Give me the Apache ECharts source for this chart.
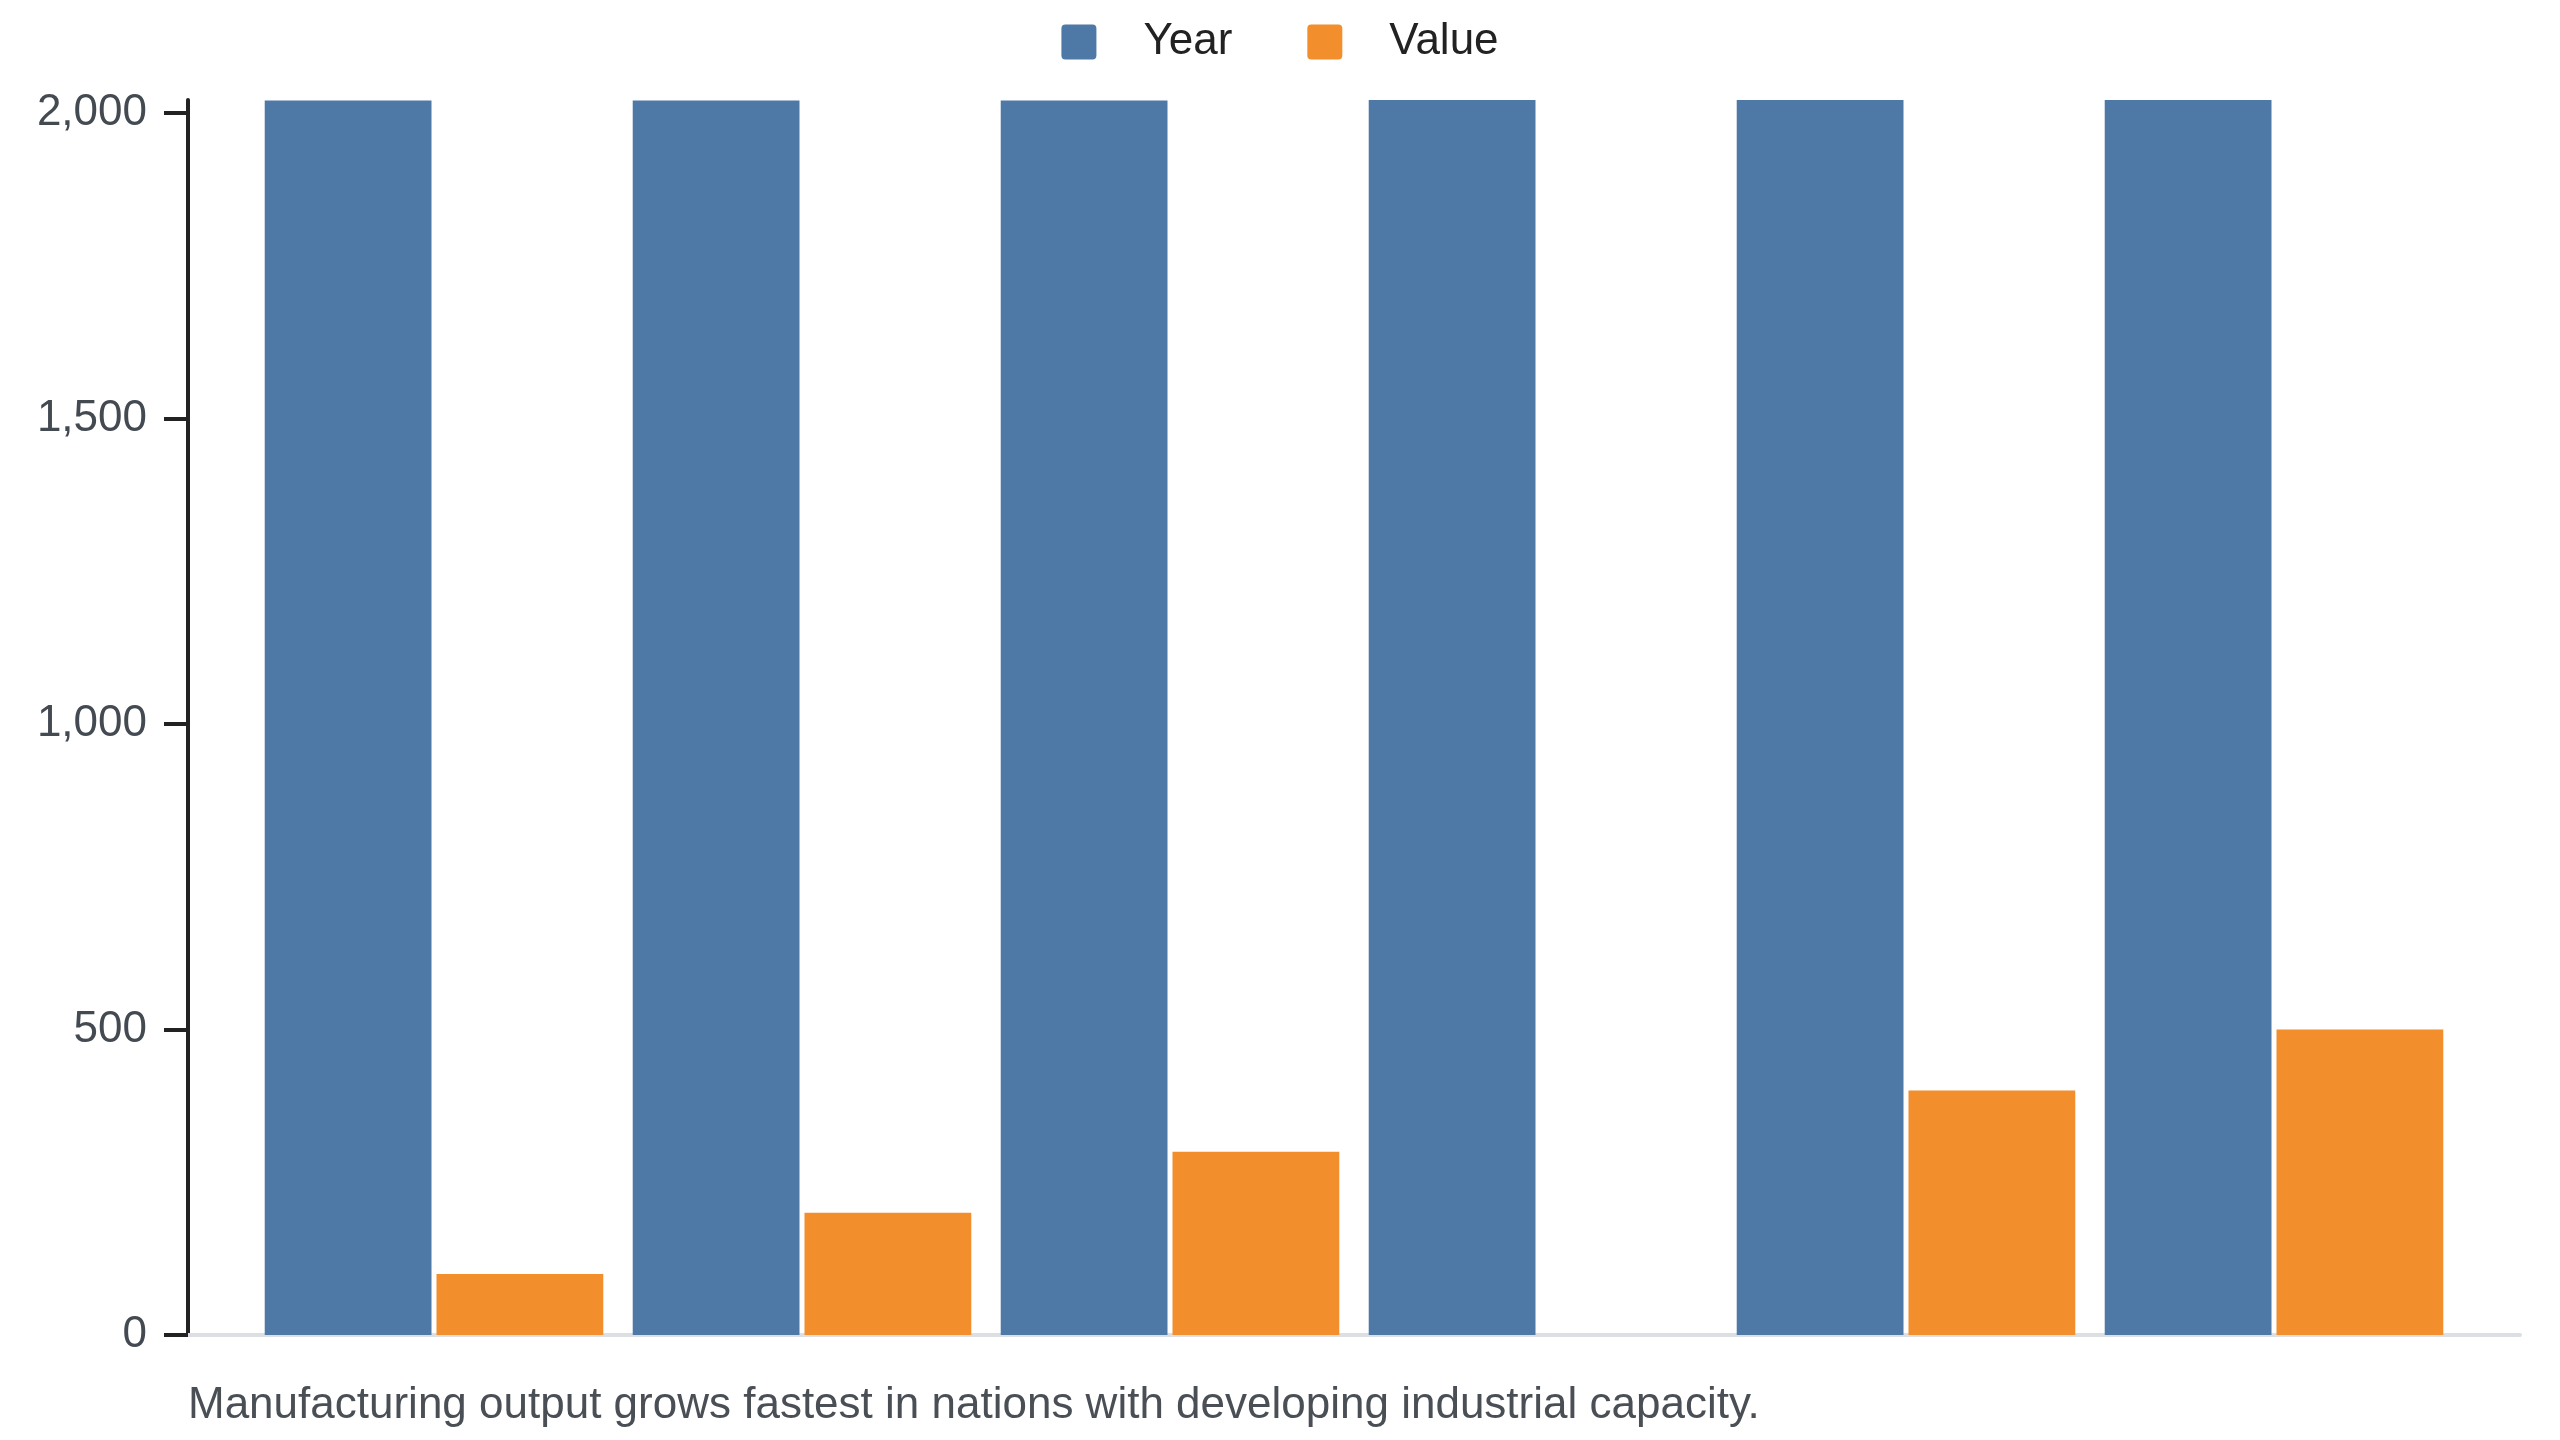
<!DOCTYPE html>
<html>
<head>
<meta charset="utf-8">
<title>Year and Value</title>
<script src="https://cdn.jsdelivr.net/npm/echarts@6/dist/echarts.min.js"></script>
<style>
    html, body { margin: 0; padding: 0; background: #fff; }
    #chart { width: 2560px; height: 1440px; }
</style>
</head>
<body>
<div id="chart"></div>
<script>
/* 数据 */
const categories = ['1', '2', '3', '4', '5', '6'];
const yearData = [2020, 2020, 2020, 2021, 2021, 2021];
const valueData = [100, 200, 300, null, 400, 500];
const yTicks = [0, 500, 1000, 1500, 2000];
const caption = 'Manufacturing output grows fastest in nations with developing industrial capacity.';

const fontFamily = '"Liberation Sans", Arial, sans-serif';
// 小圆角方块图例
const legendIcon = 'path://M4,0 H31 Q35,0 35,4 V31 Q35,35 31,35 H4 Q0,35 0,31 V4 Q0,0 4,0 Z';

var chart = echarts.init(document.getElementById('chart'));
var option = {
    backgroundColor: '#ffffff',
    animation: false,
    title: {
        text: caption,
        left: 183,
        top: 1379,
        textStyle: {
            fontFamily: fontFamily,
            fontSize: 44,
            fontWeight: 'normal',
            color: '#4a4f56'
        }
    },
    legend: {
        top: 15,
        left: 'center',
        icon: legendIcon,
        itemWidth: 35,
        itemHeight: 35,
        itemGap: 75,
        textStyle: {
            fontFamily: fontFamily,
            fontSize: 44,
            color: '#222222',
            padding: [0, 0, 0, 42]
        },
        data: ['Year', 'Value']
    },
    grid: [
        // 柱子
        { left: 250, right: 102, top: 100, bottom: 105 },
        // 横轴线（比柱子区域更宽）
        { left: 188, right: 40, top: 100, bottom: 105 }
    ],
    xAxis: [
        {
            type: 'category',
            gridIndex: 0,
            data: categories,
            show: false
        },
        {
            type: 'value',
            gridIndex: 1,
            min: 0,
            max: 1,
            axisLine: { show: true, lineStyle: { color: '#dcdfe3', width: 4 } },
            axisTick: { show: false },
            axisLabel: { show: false },
            splitLine: { show: false }
        }
    ],
    yAxis: [
        {
            type: 'value',
            gridIndex: 0,
            min: 0,
            max: 'dataMax',
            interval: 500,
            offset: 62,
            axisLine: { show: true, lineStyle: { color: '#222222', width: 4 } },
            axisTick: {
                show: true,
                length: 24,
                lineStyle: { color: '#222222', width: 4 },
                customValues: yTicks
            },
            axisLabel: {
                margin: 41,
                fontFamily: fontFamily,
                fontSize: 44,
                color: '#444a52',
                customValues: yTicks,
                formatter: function (v) {
                    return v.toLocaleString('en-US');
                }
            },
            splitLine: { show: false }
        },
        {
            type: 'value',
            gridIndex: 1,
            show: false
        }
    ],
    series: [
        {
            name: 'Year',
            type: 'bar',
            xAxisIndex: 0,
            yAxisIndex: 0,
            barGap: '3%',
            barCategoryGap: '8%',
            itemStyle: { color: '#4e79a7' },
            data: yearData
        },
        {
            name: 'Value',
            type: 'bar',
            xAxisIndex: 0,
            yAxisIndex: 0,
            itemStyle: { color: '#f28e2b' },
            data: valueData
        }
    ]
};
chart.setOption(option);

window.addEventListener('resize', function () {
    chart.resize();
});
</script>
</body>
</html>
